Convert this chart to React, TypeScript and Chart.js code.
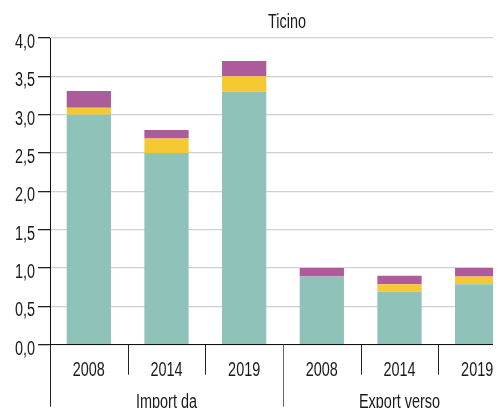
import React, { useEffect, useRef } from "react";
import { Chart, registerables } from "chart.js";

Chart.register(...registerables);

const categories = ["2008", "2014", "2019", "2008", "2014", "2019"];
const groups = ["Import da", "Export verso"];
const groupSizes = [3, 3];
const tealValues = [3.0, 2.5, 3.3, 0.89, 0.69, 0.79];
const yellowValues = [0.09, 0.19, 0.2, 0.0, 0.1, 0.1];
const purpleValues = [0.22, 0.11, 0.2, 0.11, 0.11, 0.11];
const yTicks = [0, 0.5, 1, 1.5, 2, 2.5, 3, 3.5, 4];
const title = "Ticino";

const FONT = "19.5px 'Liberation Sans', Arial, sans-serif";
const SX = 0.74;
const CW = 508;
const CH = 410;

function drawText(ctx: CanvasRenderingContext2D, text: string, x: number, y: number, align: CanvasTextAlign) {
  ctx.save();
  ctx.translate(x, y);
  ctx.scale(SX, 1);
  ctx.textAlign = align;
  ctx.textBaseline = "alphabetic";
  ctx.fillText(text, 0, 0);
  ctx.restore();
}

export default function App() {
  const ref = useRef<HTMLCanvasElement>(null);
  useEffect(() => {
    if (!ref.current) return;
    const overlay = {
      id: "overlay",
      afterDraw(chart: any) {
        const ctx = chart.ctx as CanvasRenderingContext2D;
        const xs = chart.scales.x;
        const ys = chart.scales.y;
        const ca = chart.chartArea;
        const n = categories.length;
        ctx.save();
        ctx.fillStyle = "#1a1a1a";
        ctx.font = FONT;
        drawText(ctx, title, (ca.left + ca.right) / 2 + 4, 19.5, "center");
        yTicks.forEach((v) => {
          drawText(ctx, v.toFixed(1).replace(".", ","), ca.left - 15, ys.getPixelForValue(v) + 10, "right");
        });
        categories.forEach((c, i) => {
          drawText(ctx, c, xs.getPixelForValue(i), ca.bottom + 31.3, "center");
        });
        const groupEnds: number[] = [];
        let acc = 0;
        groupSizes.forEach((g) => {
          acc += g;
          groupEnds.push(acc);
        });
        ctx.lineWidth = 1;
        for (let i = 1; i < n; i++) {
          const x = Math.round((xs.getPixelForValue(i - 1) + xs.getPixelForValue(i)) / 2) + 0.5;
          const isGroup = groupEnds.includes(i);
          ctx.strokeStyle = isGroup ? "#666" : "#222";
          ctx.beginPath();
          ctx.moveTo(x, ca.bottom);
          ctx.lineTo(x, isGroup ? ca.bottom + 62 : ca.bottom + 30);
          ctx.stroke();
        }
        ctx.strokeStyle = "#222";
        ctx.beginPath();
        ctx.moveTo(Math.round(ca.left) + 0.5, ca.bottom);
        ctx.lineTo(Math.round(ca.left) + 0.5, ca.bottom + 62);
        ctx.stroke();
        let start = 0;
        groupSizes.forEach((g, gi) => {
          const l = start === 0 ? ca.left : (xs.getPixelForValue(start - 1) + xs.getPixelForValue(start)) / 2;
          const end = start + g;
          const r = end >= n ? ca.right : (xs.getPixelForValue(end - 1) + xs.getPixelForValue(end)) / 2;
          drawText(ctx, groups[gi], (l + r) / 2, ca.bottom + 63.3, "center");
          start = end;
        });
        ctx.restore();
      },
    };
    const chart = new Chart(ref.current, {
      type: "bar",
      data: {
        labels: categories,
        datasets: [
          { label: "a", data: tealValues, backgroundColor: "#8fc2b9", borderWidth: 0 },
          { label: "b", data: yellowValues, backgroundColor: "#f5c934", borderWidth: 0 },
          { label: "c", data: purpleValues, backgroundColor: "#ad5b9b", borderWidth: 0 },
        ],
      },
      options: {
        responsive: false,
        animation: false,
        layout: { padding: { top: 30, right: 0, left: 0, bottom: 0 } },
        plugins: { legend: { display: false }, tooltip: { enabled: false }, title: { display: false } },
        datasets: { bar: { categoryPercentage: 1, barPercentage: 0.57 } },
        scales: {
          x: {
            stacked: true,
            grid: { display: false },
            border: { display: true, color: "#111", width: 1 },
            ticks: { display: false },
            afterFit: (s: any) => {
              s.height = CH - 336.7;
            },
          },
          y: {
            stacked: true,
            min: 0,
            max: 4,
            afterBuildTicks: (s: any) => {
              s.ticks = yTicks.map((v) => ({ value: v }));
            },
            grid: { color: "#d0d0d0", lineWidth: 1.3, tickColor: "#222", tickLength: 12 },
            border: { display: true, color: "#111", width: 1 },
            ticks: { display: false },
            afterFit: (s: any) => {
              s.width = 42;
            },
          },
        },
      },
      plugins: [overlay],
    } as any);
    return () => chart.destroy();
  }, []);
  return (
    <div style={{ width: 493, height: 400, overflow: "hidden" }}>
      <canvas ref={ref} width={CW} height={CH} style={{ width: CW, height: CH, display: "block" }} />
    </div>
  );
}
